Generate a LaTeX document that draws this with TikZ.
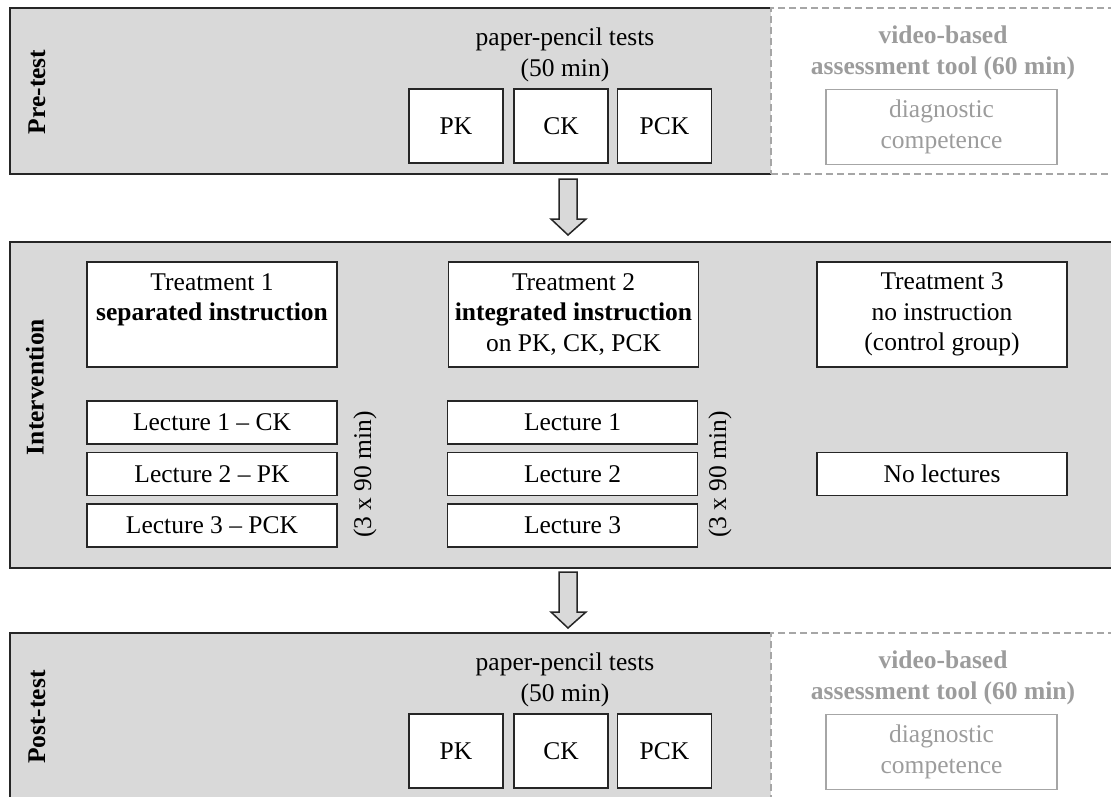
\documentclass[tikz,border=0pt]{standalone}
\usepackage{fontspec}
\setmainfont{Liberation Serif}
\usepackage{tikz}
\definecolor{panelgray}{HTML}{D9D9D9}
\definecolor{lightline}{HTML}{A6A6A6}
\definecolor{lighttext}{HTML}{9C9C9C}

\begin{document}
\begin{tikzpicture}[x=1pt,y=-1pt]
        \tikzstyle{every node} = [rectangle, inner sep=2pt, align=center, font=\fontsize{25.5}{30.5}\selectfont]
        \tikzstyle{panel} = [fill=panelgray, minimum width=761pt, minimum height=166pt]
        \tikzstyle{edge} = [draw=black!85, line width=1.5pt]
        \tikzstyle{dashbox} = [draw=lightline, dashed, dash pattern=on 7pt off 4pt, line width=1.8pt, minimum width=342pt, minimum height=166pt]
        \tikzstyle{phase} = [rotate=90, font=\fontsize{25.5}{30.5}\selectfont\bfseries]
        \tikzstyle{testbox} = [edge, fill=white, minimum width=94pt, minimum height=74pt]
        \tikzstyle{graytitle} = [text=lighttext, font=\fontsize{25.5}{30.5}\selectfont\bfseries]
        \tikzstyle{graybox} = [draw=lightline, line width=1.8pt, text=lighttext, minimum width=231pt, minimum height=75pt]
        \tikzstyle{treat} = [edge, fill=white, minimum width=250pt, minimum height=105pt]
        \tikzstyle{lecture} = [edge, fill=white, minimum width=250pt, minimum height=43pt]
        \tikzstyle{dur} = [rotate=90]
        \tikzstyle{blockarr} = [edge, fill=panelgray, line join=miter]
        \path[use as bounding box, clip] (0,0) rectangle (1111,796);
        \node[panel, edge, minimum width=1104pt, minimum height=326pt] (inter) at (562,405) {};
        \node[phase] (interlbl) at (35,387) {Intervention};
        \foreach \ph/\dy/\lbl in {pre/0/Pre-test, post/625/Post-test} {
            \node[panel] (\ph) at (390.5,91+\dy) {};
            \draw[edge] (\ph.north east) -- (\ph.north west) -- (\ph.south west) -- (\ph.south east);
            \node[dashbox] (\ph vid) at (942,91+\dy) {};
            \node[phase] (\ph lbl) at (37,92+\dy) {\lbl};
            \node (\ph txt) at (565,55+\dy) {paper-pencil tests\\(50 min)};
            \foreach \name/\txt/\x in {pk/PK/456, ck/CK/561, pck/PCK/664.5}
                \node[testbox] (\ph\name) at (\x,126+\dy) {\txt};
            \node[graytitle] (\ph vidtxt) at (943,53+\dy) {video-based\\assessment tool (60 min)};
            \node[graybox] (\ph diag) at (941.5,127+\dy) {diagnostic\\competence};
        }
        \node[treat] (t1) at (212,314.5) {Treatment 1\\\textbf{separated instruction}\\\phantom{on PK, CK, PCK}};
        \node[treat] (t2) at (573.5,314.5) {Treatment 2\\\textbf{integrated instruction}\\on PK, CK, PCK};
        \node[treat] (t3) at (942,314.5) {Treatment 3\\no instruction\\(control group)};
        \foreach \i/\k/\y in {1/CK/422.5, 2/PK/474, 3/PCK/525.5} {
            \node[lecture] (la\i) at (212,\y) {Lecture \i\ -- \k};
            \node[lecture] (lb\i) at (572.5,\y) {Lecture \i};
        }
        \node[lecture] (lc) at (942,474) {No lectures};
        \node[dur] (dura) at (365,474.5) {(3 x 90 min)};
        \node[dur] (durb) at (720,474.5) {(3 x 90 min)};
        \coordinate (a1from) at (568,179);
        \coordinate (a1to) at (568,235);
        \coordinate (a2from) at (568,572);
        \coordinate (a2to) at (568,628);
        \foreach \from/\to in {a1from/a1to, a2from/a2to}
            \draw[blockarr] (\from) ++(-9,0) -- ++(18,0) -- ++(0,40) -- ++(9,0) -- (\to) -- ++(-17,-16) -- ++(8,0) -- cycle;
    \end{tikzpicture}
\end{document}
